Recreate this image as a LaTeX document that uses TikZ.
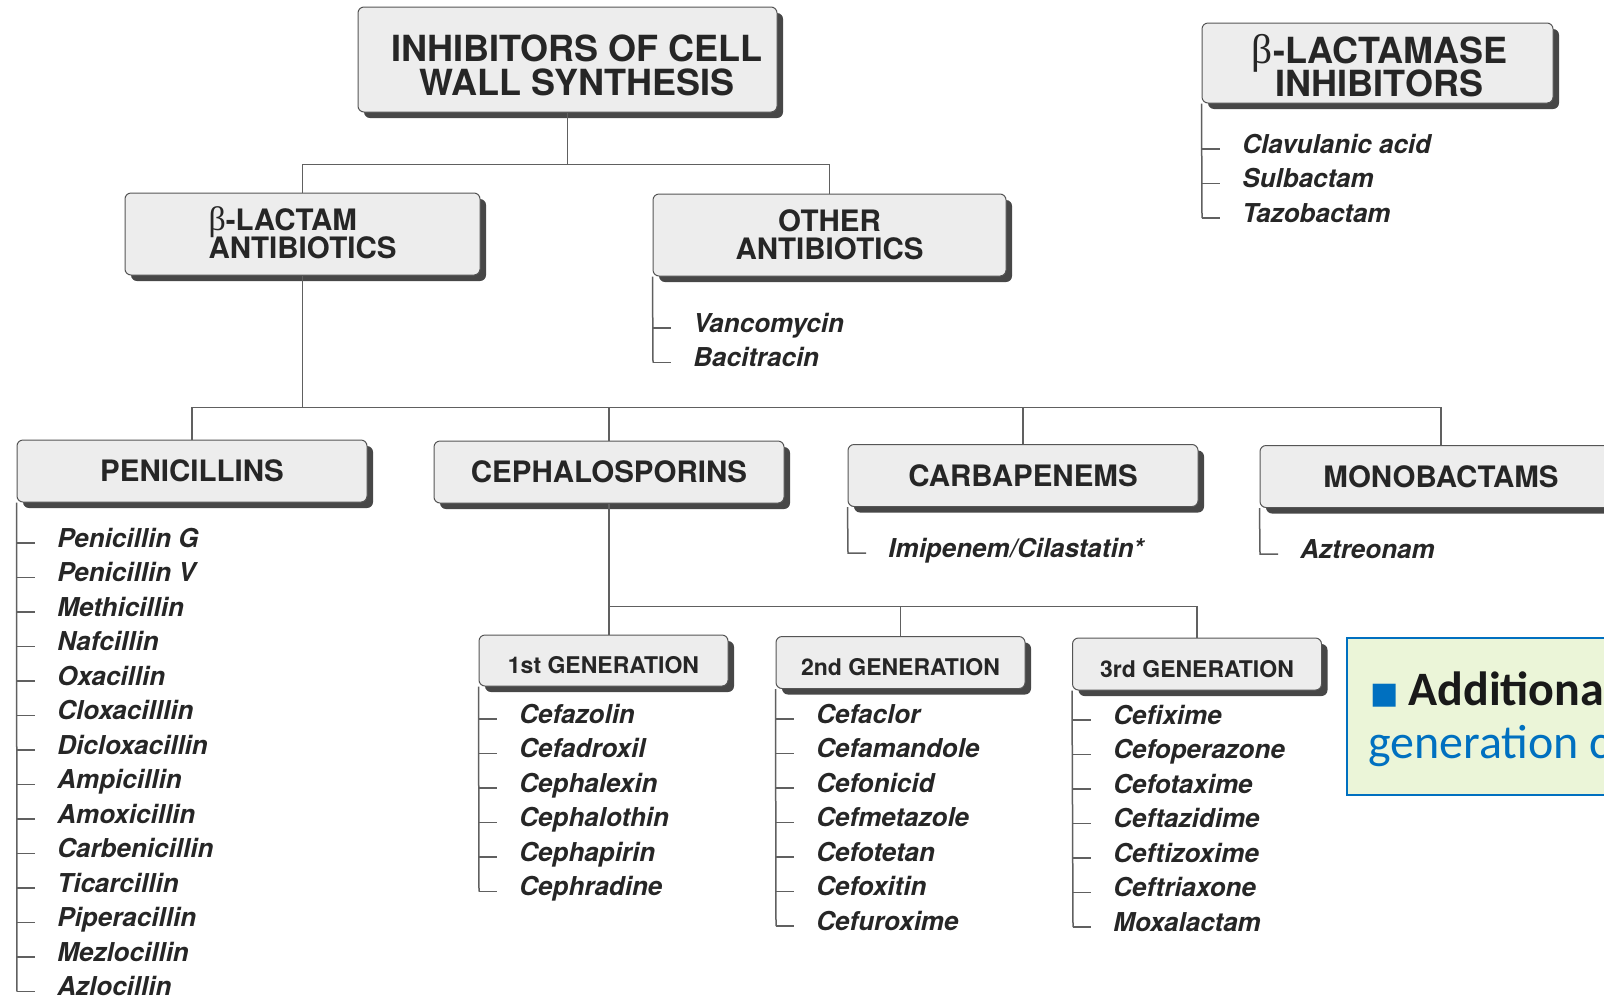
\documentclass[tikz,border=0pt]{standalone}
\usepackage{graphicx}
\usepackage{fontspec}
\setmainfont{TeX Gyre Heros}
\newfontfamily\betafont{Liberation Serif}
\newfontfamily\notefont{Carlito}
\newfontfamily\symfont{DejaVu Sans}
\usetikzlibrary{shadows}

\definecolor{boxgray}{HTML}{EDEDED}
\definecolor{edgegray}{HTML}{555555}
\definecolor{shadegray}{HTML}{474747}
\definecolor{linegray}{HTML}{606060}
\definecolor{inkgray}{HTML}{262626}
\definecolor{noteblue}{HTML}{0070C0}
\definecolor{notegreen}{HTML}{EBF5D8}

\newcommand{\betachar}{{\betafont\mdseries\smash{\scalebox{1.15}{β}}}}

\tikzset{
  classbox/.style={draw=edgegray, line width=0.5pt, fill=boxgray, rounded corners=3pt,
    inner sep=0pt, align=center, text=inkgray,
    drop shadow={shadow xshift=3pt, shadow yshift=-3pt, fill=shadegray, opacity=1}},
  midbox/.style={classbox, font=\fontsize{14.75}{14}\selectfont\bfseries},
  genbox/.style={classbox, text height=13pt, text depth=0pt, font=\fontsize{11.5}{12}\selectfont\bfseries},
  bigtext/.style={inner sep=0pt, align=center, text=inkgray, font=\fontsize{18}{17}\selectfont\bfseries},
  drug/.style={anchor=base west, inner sep=0pt, text=inkgray, font=\fontsize{13}{13}\selectfont\bfseries\itshape},
  link/.style={draw=linegray, line width=0.75pt},
  notetext/.style={anchor=base west, inner sep=0pt, font=\notefont\fontsize{24}{28}\selectfont},
}

\begin{document}
\begin{tikzpicture}[x=0.5pt,y=-0.5pt]
\useasboundingbox (0,0) rectangle (1604,997);
\clip (0,0) rectangle (1604,997);

% top classes
\node[classbox, minimum width=209.5pt, minimum height=52.5pt] (wall) at (567.5,59.5) {};
\node[bigtext] (walltext) at (577,65) {INHIBITORS OF CELL\\WALL SYNTHESIS};
\node[classbox, minimum width=175.5pt, minimum height=40pt] (lactamase) at (1377.5,63) {};
\node[bigtext, font=\fontsize{18}{16.5}\selectfont\bfseries] (lactamasetext) at (1379.5,67) {\betachar-LACTAMASE\\INHIBITORS};

\node[midbox, align=left, minimum width=177.5pt, minimum height=41pt] (blactam) at (302.5,234) {\betachar-LACTAM\\ANTIBIOTICS};
\node[midbox, minimum width=176.5pt, minimum height=41pt] (other) at (829.5,235) {OTHER\\ANTIBIOTICS};

% beta-lactam groups
\node[midbox, minimum width=175pt, minimum height=31pt] (pen) at (192,471) {PENICILLINS};
\node[midbox, minimum width=175pt, minimum height=31pt] (ceph) at (609,472) {CEPHALOSPORINS};
\node[midbox, minimum width=175pt, minimum height=31pt] (carb) at (1023,475.5) {CARBAPENEMS};
\node[midbox, minimum width=181pt, minimum height=31pt] (mono) at (1441,476.5) {MONOBACTAMS};

% generations
\node[genbox, minimum width=124.5pt, minimum height=25.5pt] (gen1) at (603.5,660.5) {1st GENERATION};
\node[genbox, minimum width=124.5pt, minimum height=26pt] (gen2) at (900.5,662.5) {2nd GENERATION};
\node[genbox, minimum width=124.5pt, minimum height=26pt] (gen3) at (1197,664) {3rd GENERATION};

% tree
\draw[link] (wall.south) -- ++(0,52) coordinate (wallfork);
\draw[link] (blactam.north) |- (wallfork) -| (other.north);
\draw[link] (blactam.south) -- ++(0,132) coordinate (lactamfork);
\draw[link] (pen.north) |- (lactamfork) -| (mono.north);
\draw[link] (ceph.north) -- (ceph.north |- lactamfork);
\draw[link] (carb.north) -- (carb.north |- lactamfork);
\draw[link] (ceph.south) -- ++(0,103) coordinate (cephfork);
\draw[link] (cephfork) -- (cephfork |- gen1.north);
\draw[link] (cephfork) -| (gen2.north);
\draw[link] (cephfork) -| (gen3.north);

% drug lists
\foreach \drug [count=\i] in {Clavulanic acid,Sulbactam,Tazobactam}
  {\node[drug] (inh\i) at (1242,{153+34.5*(\i-1)}) {\drug};
   \draw[link] ([xshift=-20pt,yshift=2pt]inh\i.base west) -- ++(18,0);}
\draw[link] (lactamase.south west) -- ([xshift=-20pt,yshift=2pt]inh3.base west);

\foreach \drug [count=\i] in {Vancomycin,Bacitracin}
  {\node[drug] (oth\i) at (693,{332+34.5*(\i-1)}) {\drug};
   \draw[link] ([xshift=-20pt,yshift=2pt]oth\i.base west) -- ++(18,0);}
\draw[link] (other.south west) -- ([xshift=-20pt,yshift=2pt]oth2.base west);

\foreach \drug [count=\i] in {Penicillin G,Penicillin V,Methicillin,Nafcillin,Oxacillin,
    Cloxacilllin,Dicloxacillin,Ampicillin,Amoxicillin,Carbenicillin,Ticarcillin,
    Piperacillin,Mezlocillin,Azlocillin}
  {\node[drug] (pen\i) at (57,{547+34.5*(\i-1)}) {\drug};
   \draw[link] ([xshift=-20pt,yshift=2pt]pen\i.base west) -- ++(18,0);}
\draw[link] (pen.south west) -- ([xshift=-20pt,yshift=2pt]pen14.base west);

\node[drug] (carb1) at (888,557) {Imipenem/Cilastatin*};
\draw[link] (carb.south west) -- ([xshift=-20pt,yshift=2pt]carb1.base west) -- ++(18,0);
\node[drug] (mono1) at (1300,558) {Aztreonam};
\draw[link] (mono.south west) -- ([xshift=-20pt,yshift=2pt]mono1.base west) -- ++(18,0);

\foreach \drug [count=\i] in {Cefazolin,Cefadroxil,Cephalexin,Cephalothin,Cephapirin,Cephradine}
  {\node[drug] (first\i) at (519,{723+34.5*(\i-1)}) {\drug};
   \draw[link] ([xshift=-20pt,yshift=2pt]first\i.base west) -- ++(18,0);}
\draw[link] (gen1.south west) -- ([xshift=-20pt,yshift=2pt]first6.base west);

\foreach \drug [count=\i] in {Cefaclor,Cefamandole,Cefonicid,Cefmetazole,Cefotetan,Cefoxitin,Cefuroxime}
  {\node[drug] (second\i) at (816,{723+34.5*(\i-1)}) {\drug};
   \draw[link] ([xshift=-20pt,yshift=2pt]second\i.base west) -- ++(18,0);}
\draw[link] (gen2.south west) -- ([xshift=-20pt,yshift=2pt]second7.base west);

\foreach \drug [count=\i] in {Cefixime,Cefoperazone,Cefotaxime,Ceftazidime,Ceftizoxime,Ceftriaxone,Moxalactam}
  {\node[drug] (third\i) at (1113,{724+34.5*(\i-1)}) {\drug};
   \draw[link] ([xshift=-20pt,yshift=2pt]third\i.base west) -- ++(18,0);}
\draw[link] (gen3.south west) -- ([xshift=-20pt,yshift=2pt]third7.base west);

% note box
\draw[draw=noteblue, line width=1.25pt, fill=notegreen] (1347,638) rectangle (1700,795);
\node[notetext, text=noteblue, font=\symfont\fontsize{15}{15}\selectfont] (bullet) at (1370,703) {■};
\node[notetext, text=black!90, font=\notefont\bfseries\fontsize{24}{28}\selectfont] (addl) at (1408,705) {Additiona};
\node[notetext, text=noteblue] (gener) at (1368,758) {generation c};

\end{tikzpicture}
\end{document}
